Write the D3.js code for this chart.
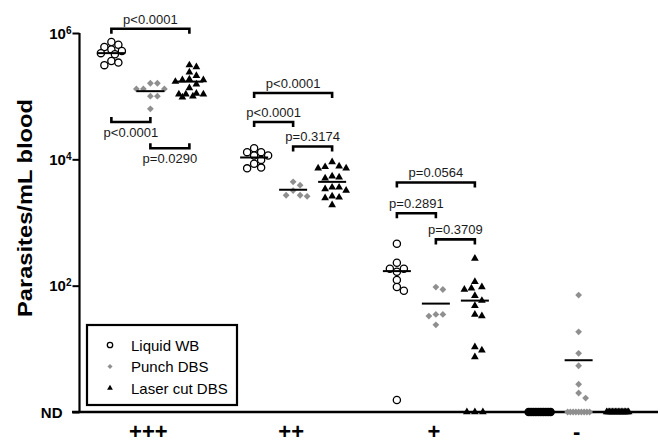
<!DOCTYPE html>
<html><head><meta charset="utf-8">
<script src="https://cdn.jsdelivr.net/npm/d3@7"></script>
<style>body{margin:0;background:#fff}svg{display:block;font-family:"Liberation Sans",Arial,Helvetica,sans-serif}</style>
</head><body><svg id="chart" width="660" height="444"></svg>
<script>
// ---------------- DATA ----------------
const categories = ["+++", "++", "+", "-"];
const seriesNames = ["Liquid WB", "Punch DBS", "Laser cut DBS"];
const ND = 0; // not detected

const liquidWB = [
  [7.2e5, 6.5e5, 6.0e5, 5.5e5, 5.2e5, 4.8e5, 4.6e5, 3.6e5, 3.4e5, 3.1e5],
  [1.5e4, 1.3e4, 1.3e4, 1.15e4, 1.15e4, 9.8e3, 8.5e3, 7.4e3, 7.2e3],
  [460, 230, 186, 186, 166, 123, 95, 83, 1.55],
  [ND, ND, ND, ND, ND, ND, ND, ND, ND, ND]
];
const punchDBS = [
  [1.6e5, 1.6e5, 1.3e5, 1.3e5, 1.3e5, 1.0e5, 1.0e5, 6.3e4],
  [4.4e3, 3.9e3, 3.2e3, 2.7e3, 2.6e3, 2.7e3],
  [87, 95, 35, 33, 35, 24],
  [71, 18.6, 8.5, 5.4, 2.75, 2.0, 1.66, ND, ND, ND, ND, ND, ND, ND, ND, ND]
];
const laserDBS = [
  [3.1e5, 2.9e5, 2.4e5, 2.1e5, 1.85e5, 1.8e5, 1.8e5, 1.7e5, 1.55e5, 1.35e5, 1.1e5, 1.07e5, 1.07e5, 1.07e5, 1.0e5, 9.6e4],
  [9.1e3, 7.8e3, 7.6e3, 7.2e3, 7.2e3, 5.4e3, 5.2e3, 5.0e3, 3.6e3, 3.6e3, 3.4e3, 3.2e3, 2.6e3, 2.5e3, 2.45e3, 1.9e3],
  [270, 115, 95, 91, 87, 69, 58, 48, 35, 33, 10.7, 9.5, 7.4, ND, ND, ND],
  [ND, ND, ND, ND, ND, ND, ND, ND, ND, ND, ND, ND, ND, ND, ND, ND]
];
const liquidCenter = [4.8e5, 1.07e4, 170, ND];
const punchCenter = [1.2e5, 3.3e3, 52, 6.6];
const laserCenter = [1.7e5, 4.4e3, 58, ND];

const yTickValues = [1, 1e2, 1e4, 1e6];
const yTickBase = ["ND", "10", "10", "10"];
const yTickExp = ["", "2", "4", "6"];

// statistical comparisons: category, series index pair, level (data units), label, bracket direction
const compCat = ["+++", "+++", "+++", "++", "++", "++", "+", "+", "+"];
const compFrom = [0, 0, 1, 0, 0, 1, 0, 0, 1];
const compTo = [2, 1, 2, 2, 1, 2, 2, 1, 2];
const compLevel = [1.17e6, 3.9e4, 1.5e4, 1.12e5, 3.9e4, 1.6e4, 4.3e3, 1.4e3, 540];
const compText = ["p<0.0001", "p<0.0001", "p=0.0290", "p<0.0001", "p<0.0001", "p=0.3174", "p=0.0564", "p=0.2891", "p=0.3709"];
const compDir = ["down", "up", "up", "down", "down", "down", "down", "down", "down"];

// ---------------- CHART ----------------
const svg = d3.select("#chart");
const y = d3.scaleLog().domain([1, 1e6]).range([412, 33]);
const yPos = v => (v > 0 ? y(v) : y(1));
const x = d3.scaleBand().domain(categories).range([79, 650]);
const xs = d3.scalePoint().domain(seriesNames).range([-39, 39]);
const cx = (cat, s) => x(cat) + x.bandwidth() / 2 + xs(seriesNames[s]);

// Y axis
const yAxis = d3.axisLeft(y).tickValues(yTickValues).tickSize(7).tickSizeOuter(0).tickFormat(() => "");
const gy = svg.append("g").attr("transform", "translate(79.5,0)").call(yAxis);
gy.select(".domain").attr("stroke-width", 2.2).attr("d", `M0,${y(1e6)}V${y(1)}`);
gy.selectAll(".tick line").attr("stroke-width", 2);
gy.selectAll(".tick").each(function (d, i) {
  const t = d3.select(this).select("text")
    .attr("fill", "#000").attr("font-weight", "bold").attr("font-size", 15)
    .attr("dy", null).attr("y", 5).attr("text-anchor", "end");
  t.text(null);
  if (yTickExp[i] === "") {
    t.attr("x", -17).text(yTickBase[i]);
  } else {
    t.attr("x", -8);
    t.append("tspan").text(yTickBase[i]);
    t.append("tspan").attr("font-size", 10).attr("dy", -5).text(yTickExp[i]);
  }
});

// X axis
const xAxis = d3.axisBottom(x).tickSize(0).tickSizeOuter(0).tickPadding(0);
const gx = svg.append("g").attr("transform", `translate(0,${y(1)})`).call(xAxis);
gx.select(".domain").attr("stroke-width", 2.4).attr("d", "M72,0H658");
gx.selectAll(".tick text").attr("font-size", 22).attr("font-weight", "bold").attr("fill", "#000")
  .attr("dy", null).attr("y", 27).attr("x", -2);

// Y title
svg.append("text")
  .attr("transform", "translate(32,208) rotate(-90)")
  .attr("text-anchor", "middle").attr("font-weight", "bold").attr("font-size", 20)
  .attr("textLength", 218).attr("lengthAdjust", "spacingAndGlyphs")
  .text("Parasites/mL blood");

// swarm layout
function swarm(vals, c) {
  const pts = vals.map(v => ({ v, y: yPos(v), nd: !(v > 0) }));
  const nd = pts.filter(p => p.nd);
  const pos = pts.filter(p => !p.nd).sort((a, b) => a.y - b.y);
  const placed = [], D = 7.0, step = 3.5;
  pos.forEach(p => {
    let best = null, bestScore = -1, bestOff = 0;
    for (let k = 0; k < 9; k++) {
      const off = k === 0 ? 0 : (k % 2 ? 1 : -1) * Math.ceil(k / 2) * step;
      const md = placed.length ? d3.min(placed, q => Math.hypot(q.x - (c + off), q.y - p.y)) : Infinity;
      if (md >= D) { best = off; break; }
      if (md > bestScore) { bestScore = md; bestOff = off; }
    }
    p.x = c + (best === null ? bestOff : best);
    placed.push(p);
  });
  const n = nd.length, sp = n > 1 ? Math.min(8, 22 / (n - 1)) : 0;
  nd.forEach((p, i) => { p.x = c + (i - (n - 1) / 2) * sp; });
  return pts;
}

const allSeries = [liquidWB, punchDBS, laserDBS];
const allCenters = [liquidCenter, punchCenter, laserCenter];
const diamond = "M0,-3.4L3.4,0L0,3.4L-3.4,0Z";
const tri = d3.symbol().type(d3.symbolTriangle).size(26)();

function drawMarker(g, s, px, py, scale, nd) {
  if (s === 0) {
    g.append("circle").attr("cx", px).attr("cy", py).attr("r", 3.6 * scale)
      .attr("fill", nd ? "#000" : "#fff").attr("stroke", "#000").attr("stroke-width", 1.3);
  } else if (s === 1) {
    g.append("path").attr("d", diamond).attr("fill", "#8f8f8f")
      .attr("transform", `translate(${px},${py}) scale(${scale})`);
  } else {
    g.append("path").attr("d", tri).attr("fill", "#000")
      .attr("transform", `translate(${px},${py}) scale(${scale})`);
  }
}

const gPts = svg.append("g");
allSeries.forEach((ser, s) => {
  ser.forEach((vals, ci) => {
    const pts = swarm(vals, cx(categories[ci], s));
    const many = pts.filter(p => p.nd).length > 5;
    pts.forEach(p => drawMarker(gPts, s, p.x, p.y, 1, p.nd && many));
  });
});

// center lines
const gLines = svg.append("g");
allCenters.forEach((arr, s) => {
  arr.forEach((v, ci) => {
    const c = cx(categories[ci], s);
    gLines.append("line").attr("x1", c - 14).attr("x2", c + 14)
      .attr("y1", yPos(v)).attr("y2", yPos(v)).attr("stroke", "#000").attr("stroke-width", 2);
  });
});

// brackets
const gB = svg.append("g");
compCat.forEach((cat, i) => {
  const x1 = cx(cat, compFrom[i]), x2 = cx(cat, compTo[i]);
  const yb = y(compLevel[i]);
  const leg = compDir[i] === "down" ? 5 : -5;
  gB.append("path").attr("d", `M${x1},${yb + leg}V${yb}H${x2}V${yb + leg}`)
    .attr("fill", "none").attr("stroke", "#000").attr("stroke-width", 2.6);
  gB.append("text").attr("x", (x1 + x2) / 2)
    .attr("y", compDir[i] === "down" ? yb - 5 : yb + 15)
    .attr("text-anchor", "middle").attr("font-size", 13).attr("fill", "#1a1a1a")
    .text(compText[i]);
});

// legend
const gL = svg.append("g");
gL.append("rect").attr("x", 87).attr("y", 325).attr("width", 150).attr("height", 80)
  .attr("fill", "#fff").attr("stroke", "#000").attr("stroke-width", 2.2);
seriesNames.forEach((name, s) => {
  const ly = 345 + s * 21.5;
  drawMarker(gL, s, 110, ly, 0.75, false);
  gL.append("text").attr("x", 131).attr("y", ly + 5.5).attr("font-size", 15).text(name);
});
</script>
</body></html>
